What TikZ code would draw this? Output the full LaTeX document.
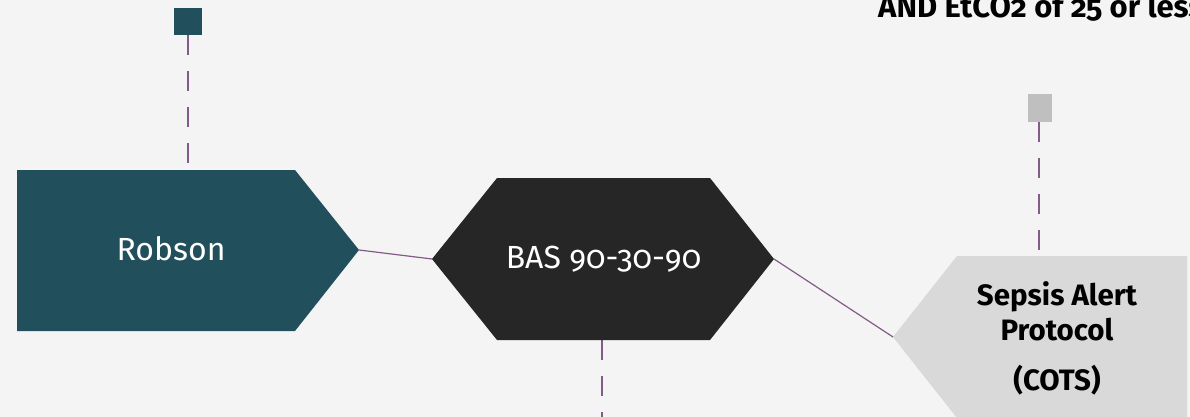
\documentclass[tikz,border=0pt]{standalone}
\usepackage{fontspec}
\setmainfont{Fira Sans}[Numbers=OldStyle]
\definecolor{bg}{HTML}{F4F4F4}
\definecolor{teal}{HTML}{224F5C}
\definecolor{charcoal}{HTML}{262626}
\definecolor{lightgray}{HTML}{D9D9D9}
\definecolor{markgray}{HTML}{BFBFBF}
\definecolor{plum}{HTML}{845A87}
\tikzset{
  link/.style={draw=plum, line width=1.2pt},
  stem/.style={draw=plum, line width=2.2pt, dash pattern=on 20pt off 16pt},
  lbl/.style={inner sep=0pt, anchor=base},
}
\begin{document}
\begin{tikzpicture}[x=1pt, y=-1pt]
  \fill[bg] (0,0) rectangle (1190,417);
  \useasboundingbox (0,0) rectangle (1190,417);

  % key corner points of the three process shapes
  \coordinate (robsonTip) at (359,250);
  \coordinate (basLeft)   at (432,259);
  \coordinate (basRight)  at (774,259);
  \coordinate (basBottom) at (602,340);
  \coordinate (sepsisTip) at (893,337);
  \coordinate (sepsisTop) at (1039,256);
  \coordinate (robsonTop) at (188,170);
  \coordinate (stemEnd)   at (602,417);

  % marker squares
  \node[fill=teal, minimum width=28pt, minimum height=27pt, inner sep=0pt] (markA) at (188,21.5) {};
  \node[fill=markgray, minimum width=24pt, minimum height=28pt, inner sep=0pt] (markB) at (1040,108) {};

  % dashed stems
  \draw[stem] (markA.south) -- (robsonTop);
  \draw[stem] (markB.south -| sepsisTop) -- (sepsisTop);
  \draw[stem] (basBottom) -- (stemEnd);

  % Robson: pentagon pointing right
  \fill[teal] (17,170) -- (295,170) -- (robsonTip) -- (295,331) -- (17,331) -- cycle;
  \node[lbl, text=white, font=\fontsize{32}{38}\selectfont] (robson) at (171,260.7) {Robson};

  % BAS 90-30-90: hexagon
  \fill[charcoal] (basLeft) -- (497,178) -- (710,178) -- (basRight) -- (710,340) -- (497,340) -- cycle;
  \node[lbl, text=white, font=\fontsize{32}{38}\selectfont] (bas) at (603.5,268) {BAS 90-30-90};

  % Sepsis Alert Protocol: pentagon pointing left
  \fill[lightgray] (sepsisTip) -- (957,256) -- (1187,256) -- (1187,418) -- (957,418) -- cycle;
  \node[lbl, align=center, font=\bfseries\fontsize{29.5}{35}\selectfont] (sepsis) at (1057,390)
    {Sepsis Alert\\Protocol\\[15pt](COTS)};

  % links between the shapes
  \draw[link] (robsonTip) -- (basLeft);
  \draw[link] (basRight) -- (sepsisTip);

  % heading text running off the top right
  \begin{scope}
    \clip (0,0) rectangle (1190,417);
    \node[inner sep=0pt, anchor=base west, font=\bfseries\fontsize{31}{36}\selectfont] (cond) at (878,17.3)
      {AND EtCO2 of 25 or less};
  \end{scope}
\end{tikzpicture}
\end{document}
